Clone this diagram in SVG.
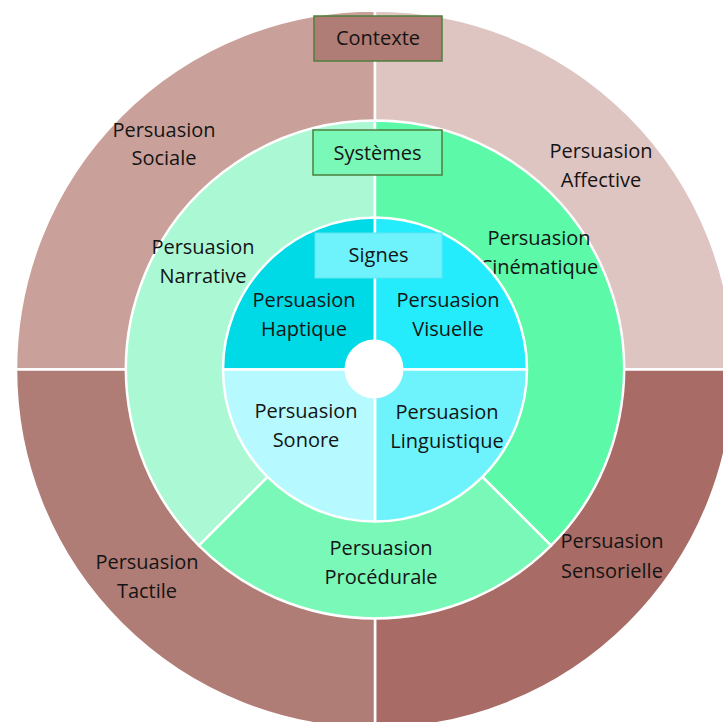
<svg xmlns="http://www.w3.org/2000/svg" width="723" height="722" viewBox="0 0 723 722">
<style>
.sec{stroke:#ffffff;stroke-width:2.5;stroke-linejoin:round}
.lbl{font-family:"Open Sans","Liberation Sans",sans-serif;font-size:20px;fill:#141414;text-anchor:middle}
.box{stroke:#4e7f3c;stroke-width:1.5}
</style>
<rect width="723" height="722" fill="#ffffff"/>
<g id="outer">
<g id="sociale">
<path class="sec" fill="#c9a19a" d="M375,369.5 L16,369.5 A359,359 0 0 1 375,10.5 Z"/>
<text class="lbl" x="164" y="137">Persuasion</text>
<text class="lbl" x="164" y="165">Sociale</text>
</g>
<g id="affective">
<path class="sec" fill="#dfc5c2" d="M375,369.5 L375,10.5 A359,359 0 0 1 734,369.5 Z"/>
<text class="lbl" x="601" y="158">Persuasion</text>
<text class="lbl" x="601" y="187">Affective</text>
</g>
<g id="sensorielle">
<path class="sec" fill="#a86b65" d="M375,369.5 L734,369.5 A359,359 0 0 1 375,728.5 Z"/>
<text class="lbl" x="612" y="548">Persuasion</text>
<text class="lbl" x="612" y="578">Sensorielle</text>
</g>
<g id="tactile">
<path class="sec" fill="#b07c76" d="M375,369.5 L375,728.5 A359,359 0 0 1 16,369.5 Z"/>
<text class="lbl" x="147" y="569">Persuasion</text>
<text class="lbl" x="147" y="598">Tactile</text>
</g>
</g>
<g id="middle">
<g id="narrative">
<path class="sec" fill="#abf8d5" d="M375,369.5 L198.93,545.57 A249,249 0 0 1 375,120.5 Z"/>
<text class="lbl" x="203" y="254">Persuasion</text>
<text class="lbl" x="203" y="283">Narrative</text>
</g>
<g id="cinematique">
<path class="sec" fill="#5bf9a8" d="M375,369.5 L375,120.5 A249,249 0 0 1 551.07,545.57 Z"/>
<text class="lbl" x="539" y="245">Persuasion</text>
<text class="lbl" x="539" y="274">Cinématique</text>
</g>
<g id="procedurale">
<path class="sec" fill="#7af8b8" d="M375,369.5 L551.07,545.57 A249,249 0 0 1 198.93,545.57 Z"/>
<text class="lbl" x="381" y="555">Persuasion</text>
<text class="lbl" x="381" y="584">Procédurale</text>
</g>
</g>
<g id="inner">
<g id="haptique">
<path class="sec" fill="#00d9e6" d="M375,369.5 L223,369.5 A152,152 0 0 1 375,217.5 Z"/>
<text class="lbl" x="304" y="307">Persuasion</text>
<text class="lbl" x="304" y="336">Haptique</text>
</g>
<g id="visuelle">
<path class="sec" fill="#24ecfd" d="M375,369.5 L375,217.5 A152,152 0 0 1 527,369.5 Z"/>
<text class="lbl" x="448" y="307">Persuasion</text>
<text class="lbl" x="448" y="336">Visuelle</text>
</g>
<g id="linguistique">
<path class="sec" fill="#6ef3fd" d="M375,369.5 L527,369.5 A152,152 0 0 1 375,521.5 Z"/>
<text class="lbl" x="447" y="419">Persuasion</text>
<text class="lbl" x="447" y="448">Linguistique</text>
</g>
<g id="sonore">
<path class="sec" fill="#b6f9fe" d="M375,369.5 L375,521.5 A152,152 0 0 1 223,369.5 Z"/>
<text class="lbl" x="306" y="418">Persuasion</text>
<text class="lbl" x="306" y="447">Sonore</text>
</g>
<circle id="hole" cx="374" cy="369" r="29.5" fill="#ffffff"/>
</g>
<g id="contexte">
<rect class="box" x="314" y="16" width="128" height="45" fill="#b07c76"/>
<text class="lbl" x="378" y="45">Contexte</text>
</g>
<g id="systemes">
<rect class="box" x="313" y="130" width="129" height="45" fill="#7af8b8"/>
<text class="lbl" x="377.5" y="160">Systèmes</text>
</g>
<g id="signes">
<rect x="315" y="233" width="127" height="45" fill="#6ef3fd" stroke="#5fe6f0" stroke-width="1"/>
<text class="lbl" x="378.5" y="262">Signes</text>
</g>
<g id="connectors"></g>
</svg>
